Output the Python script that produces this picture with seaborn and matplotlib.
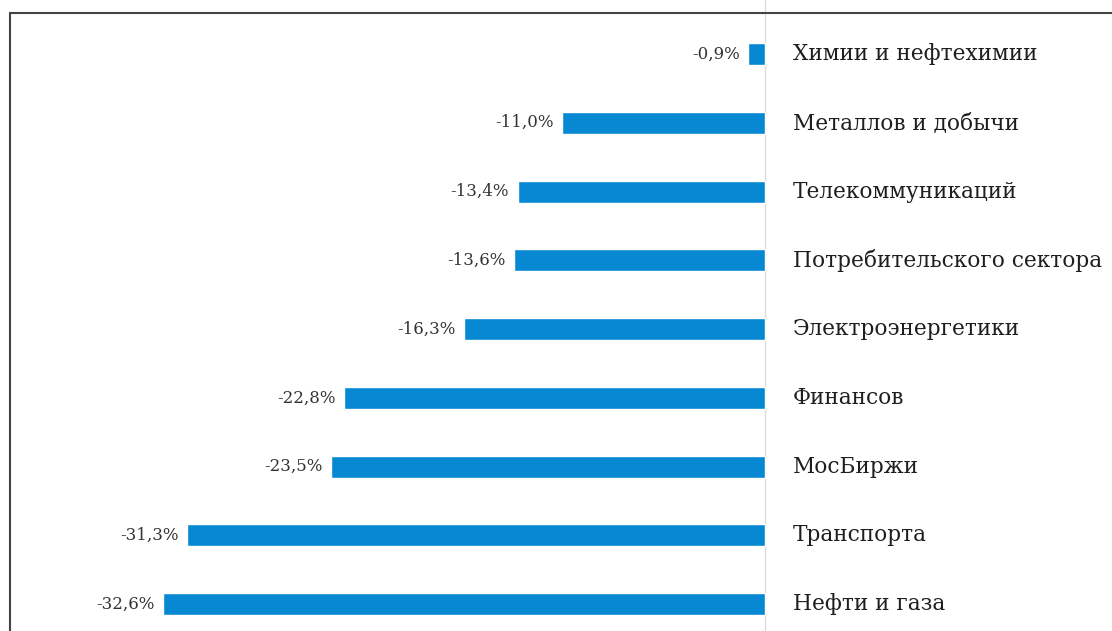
import numpy as np
import pandas as pd
import matplotlib.pyplot as plt
from matplotlib.lines import Line2D
import seaborn as sns

sectors = ['Химии и нефтехимии', 'Металлов и добычи', 'Телекоммуникаций',
           'Потребительского сектора', 'Электроэнергетики', 'Финансов',
           'МосБиржи', 'Транспорта', 'Нефти и газа']
changes = [-0.9, -11.0, -13.4, -13.6, -16.3, -22.8, -23.5, -31.3, -32.6]

df = pd.DataFrame({'sector': sectors, 'change': changes})

sns.set_style('white')
plt.rcParams['font.family'] = ['DejaVu Serif']

fig = plt.figure(figsize=(11.12, 6.31), dpi=100)
ax = fig.add_axes([0, 0, 1, 1])

sns.barplot(data=df, x='change', y='sector', order=sectors, orient='h',
            color='#0788d2', saturation=1, width=0.32, ax=ax)

# px per percent ~18.47, zero at x=765
ax.set_xlim(-765 / 18.47, (1112 - 765) / 18.47)
ax.set_ylim(8.39, -0.785)
ax.axvline(0, color='#dcdcdc', lw=1, zorder=0)

for i, (name, val) in enumerate(zip(sectors, changes)):
    ax.text(1.5, i, name, ha='left', va='center', fontsize=15.6, color='#1e1e1e')
    ax.text(val - 0.45, i, '{:.1f}%'.format(val).replace('.', ','),
            ha='right', va='center', fontsize=12, color='#333333')

ax.set_xticks([])
ax.set_yticks([])
ax.set_xlabel('')
ax.set_ylabel('')
for s in ax.spines.values():
    s.set_visible(False)

# frame (top and left edges)
fig.add_artist(Line2D([10 / 1112, 1], [1 - 13 / 631, 1 - 13 / 631],
                      transform=fig.transFigure, color='#444444', lw=1.5))
fig.add_artist(Line2D([10 / 1112, 10 / 1112], [0, 1 - 13 / 631],
                      transform=fig.transFigure, color='#444444', lw=1.5))

plt.savefig('out.png', dpi=100)
